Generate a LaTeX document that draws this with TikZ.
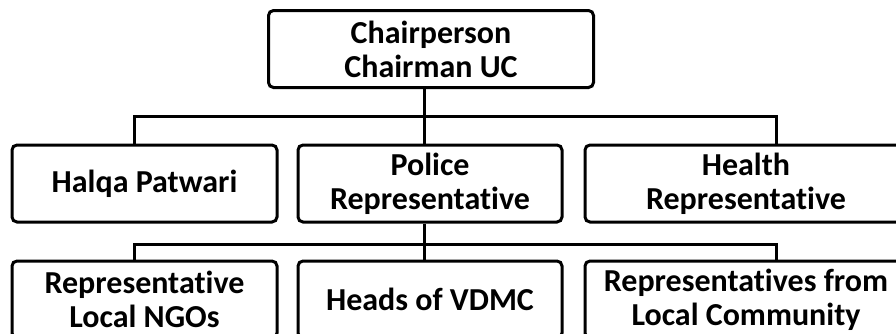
\documentclass[tikz,border=0pt]{standalone}
\usepackage{fontspec}
\setmainfont{Carlito}[Ligatures=NoCommon]
\usepackage{tikz}
\usetikzlibrary{calc}

\begin{document}
\begin{tikzpicture}[
    x=1pt, y=-1pt,
    orgbox/.style={rectangle, draw=black, line width=3pt, rounded corners=5pt,
                   minimum height=77pt, align=center, inner sep=0pt,
                   font=\fontsize{32}{34}\selectfont\bfseries},
    link/.style={draw, line width=3pt}
]
\clip (0,0) rectangle (896,333);
% top level
\node[orgbox, minimum width=325pt] (chair) at (431,49) {Chairperson\\Chairman UC};
% second row
\node[orgbox, minimum width=265pt] (halqa) at (144.5,183.5) {Halqa Patwari};
\node[orgbox, minimum width=264pt] (police) at (430,183.5) {Police\\Representative};
\node[orgbox, minimum width=322pt] (health) at (746,183.5) {Health\\Representative};
% third row
\node[orgbox, minimum width=265pt] (ngos) at (144.5,299.5) {Representative\\Local NGOs};
\node[orgbox, minimum width=264pt] (vdmc) at (430,299.5) {Heads of VDMC};
\node[orgbox, minimum width=322pt] (community) at (746,299.5) {Representatives from\\Local Community};

% bus lines
\coordinate (busA) at (424,116);
\coordinate (busAleft) at (134,116);
\coordinate (busAright) at (776,116);
\coordinate (busB) at (424,244);
\coordinate (busBleft) at (134,244);
\coordinate (busBright) at (776,244);

\draw[link] (chair.south -| busA) -- (police.north -| busA);
\draw[link] (halqa.north -| busAleft) -- (busAleft) -- (busAright) -- (health.north -| busAright);
\draw[link] (police.south -| busB) -- (vdmc.north -| busB);
\draw[link] (ngos.north -| busBleft) -- (busBleft) -- (busBright) -- (community.north -| busBright);
\end{tikzpicture}
\end{document}
